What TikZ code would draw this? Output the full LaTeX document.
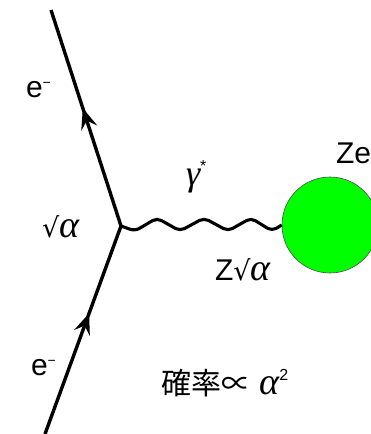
\documentclass[tikz,border=0pt]{standalone}
\usepackage{fontspec}
\setmainfont{Liberation Sans}
\newfontfamily\cjkfont{Noto Sans CJK JP}
\newfontfamily\djv{DejaVu Sans}
\newfontfamily\grk{Liberation Serif}
\usetikzlibrary{calc}
\newcommand\myalpha{{\grk\itshape\fontsize{38}{40}\selectfont α}}
\newcommand\myroot{{\djv\fontsize{27}{30}\selectfont √}}
% arrowhead: #1 tip, #2 point behind the tip on the line
\newcommand\headat[2]{%
  \fill[black,line join=miter] (#1) -- ($($(#1)!21pt!(#2)$)!8.5pt!90:(#1)$)
     -- ($(#1)!13pt!(#2)$) -- ($($(#1)!21pt!(#2)$)!8.5pt!-90:(#1)$) -- cycle;}
\begin{document}
\begin{tikzpicture}[x=1pt,y=-1pt,
  lbl/.style={inner sep=0pt,outer sep=0pt,font=\fontsize{30}{34}\selectfont},
  fline/.style={line width=3.4pt,black},
  photon/.style={line width=3.1pt,black,rounded corners=5pt,line join=round},
  nucleus/.style={circle,fill=green,draw=black!70,line width=0.6pt,minimum size=96pt,inner sep=0pt}]
\useasboundingbox (0,0) rectangle (371,434);
\clip (0,0) rectangle (371,434);
% points
\coordinate (top) at (51,10);
\coordinate (vtx) at (121,226);
\coordinate (bot) at (45,434);
\coordinate (a1) at ($(vtx)!0.545!(top)$);
\coordinate (a2) at ($(bot)!0.58!(vtx)$);
\node[nucleus] (nuc) at (330,225) {};
% fermion lines
\draw[fline] (vtx) -- (top);
\draw[fline] (bot) -- (vtx);
\headat{a1}{vtx}
\headat{a2}{bot}
% photon
\draw[photon] (vtx) -- (135,231) -- (157,218) -- (180,231) -- (204,218) -- (228,231) -- (251,218) -- (272,231) -- (nuc.west);
% labels
\node[lbl,anchor=base west] (e1) at (26,97) {e\textsuperscript{\fontsize{14}{14}\selectfont −}};
\node[lbl,anchor=base west] (e2) at (31,375) {e\textsuperscript{\fontsize{14}{14}\selectfont −}};
\node[lbl,anchor=base west] (ga) at (42,237) {\myroot\myalpha};
\node[lbl,anchor=base west] (gam) at (186,185) {{\grk\itshape\fontsize{36}{40}\selectfont γ}\raisebox{14pt}{\fontsize{16}{16}\selectfont *}};
\node[lbl,anchor=base west] (zga) at (215,280) {Z\myroot\myalpha};
\node[lbl,anchor=base west] (ze) at (336,163) {Ze};
\node[lbl,anchor=base west] (prob) at (161,394) {{\cjkfont 確率∝} \myalpha\raisebox{14pt}{\fontsize{16}{16}\selectfont 2}};
\end{tikzpicture}
\end{document}
